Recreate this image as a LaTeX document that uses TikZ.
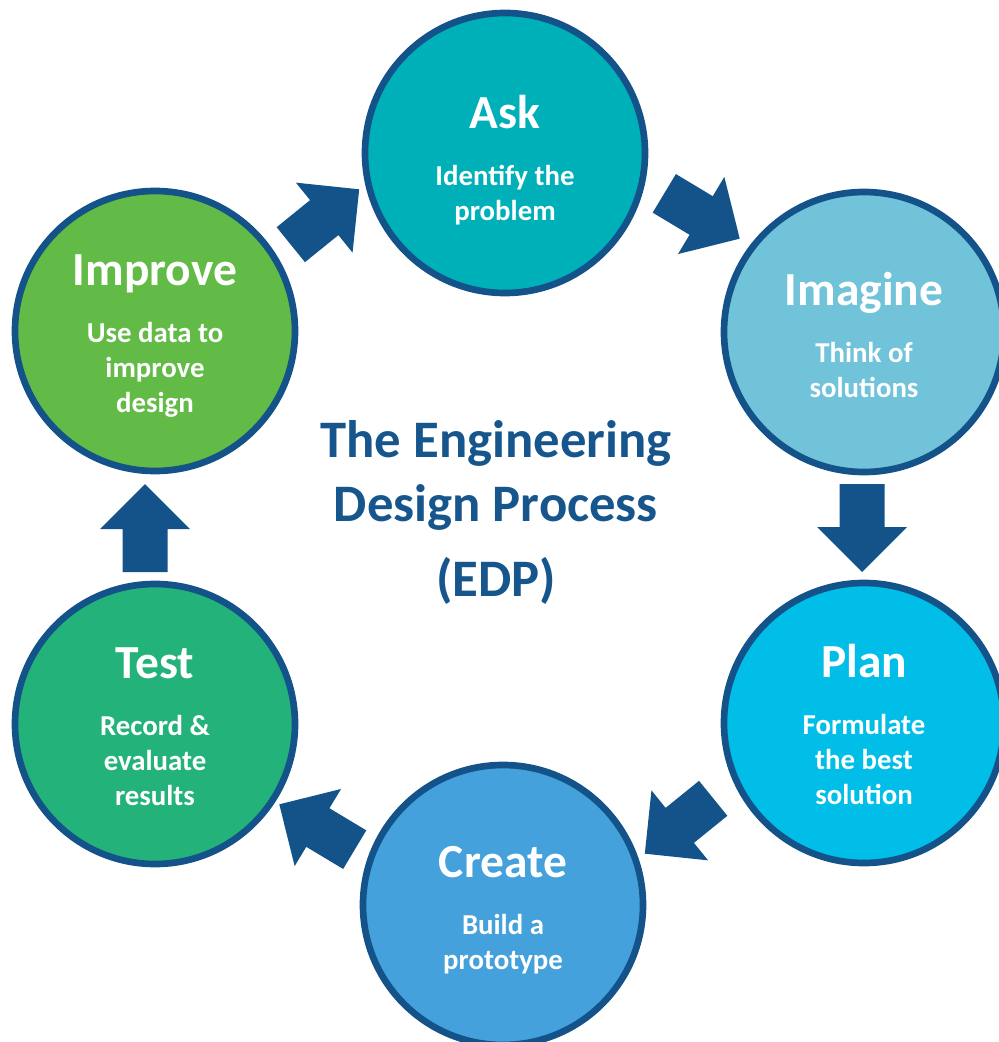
\documentclass[tikz,border=0pt]{standalone}
\usepackage{fontspec}
\setmainfont{Carlito}
\usetikzlibrary{positioning}
\definecolor{edpnavy}{HTML}{14528A}
\definecolor{edptext}{HTML}{17568C}
\definecolor{edpask}{HTML}{00B0B9}
\definecolor{edpimagine}{HTML}{70C3D8}
\definecolor{edpplan}{HTML}{00BEE8}
\definecolor{edpcreate}{HTML}{44A1DB}
\definecolor{edptest}{HTML}{23B37A}
\definecolor{edpimprove}{HTML}{62BB46}
\begin{document}
\begin{tikzpicture}[
  edpcircle/.style = {circle, draw=edpnavy, line width=1.9pt, minimum size=2.8cm, inner sep=0pt},
  edpstep/.style = {font=\bfseries\fontsize{13.5}{16}\selectfont, text=white, inner sep=0pt},
  edpsub/.style = {font=\bfseries\fontsize{8.2}{9.9}\selectfont, text=white, align=center, inner sep=0pt},
  edptitle/.style = {font=\bfseries\fontsize{15}{18.4}\selectfont, text=edptext, align=center, inner sep=0pt},
  edparrow/.pic = {
    \fill[edpnavy] (-0.44,-0.225) -- (-0.01,-0.225) -- (-0.01,-0.45) -- (0.44,0)
      -- (-0.01,0.45) -- (-0.01,0.225) -- (-0.44,0.225) -- cycle;
  }
]
  \useasboundingbox (0,0) rectangle (9.98,-10.42);
  % circles
  \node[edpcircle, fill=edpask] (ask) at (5.05,-1.53) {};
  \node[edpcircle, fill=edpimagine] (imagine) at (8.64,-3.32) {};
  \node[edpcircle, fill=edpplan] (plan) at (8.64,-7.23) {};
  \node[edpcircle, fill=edpcreate] (create) at (5.03,-9.05) {};
  \node[edpcircle, fill=edptest] (test) at (1.55,-7.24) {};
  \node[edpcircle, fill=edpimprove] (improve) at (1.55,-3.31) {};
  % step names
  \node[edpstep, above=0.25cm of ask.center, anchor=base] (asktitle) {Ask};
  \node[edpstep, above=0.27cm of imagine.center, anchor=base] (imaginetitle) {Imagine};
  \node[edpstep, above=0.46cm of plan.center, anchor=base] (plantitle) {Plan};
  \node[edpstep, above=0.28cm of create.center, anchor=base] (createtitle) {Create};
  \node[edpstep, above=0.46cm of test.center, anchor=base] (testtitle) {Test};
  \node[edpstep, above=0.46cm of improve.center, anchor=base] (improvetitle) {Improve};
  % what each step means (base = last line)
  \node[edpsub, below=0.92cm of asktitle.base, anchor=base] (asktext) {Identify the\\problem};
  \node[edpsub, below=0.92cm of imaginetitle.base, anchor=base] (imaginetext) {Think of\\solutions};
  \node[edpsub, below=1.27cm of plantitle.base, anchor=base] (plantext) {Formulate\\the best\\solution};
  \node[edpsub, below=0.92cm of createtitle.base, anchor=base] (createtext) {Build a\\prototype};
  \node[edpsub, below=1.27cm of testtitle.base, anchor=base] (testtext) {Record \&\\evaluate\\results};
  \node[edpsub, below=1.27cm of improvetitle.base, anchor=base] (improvetext) {Use data to\\improve\\design};
  % block arrows
  \pic[rotate=39] at (3.25,-2.17) {edparrow};
  \pic[rotate=-31] at (7.02,-2.16) {edparrow};
  \pic[rotate=-90] at (8.62,-5.28) {edparrow};
  \pic[rotate=219] at (6.79,-8.26) {edparrow};
  \pic[rotate=149] at (3.17,-8.27) {edparrow};
  \pic[rotate=90] at (1.45,-5.28) {edparrow};
  % centre title
  \node[edptitle, anchor=base] (edpname) at (4.96,-5.967)
    {The Engineering\\Design Process\\[2.9pt](EDP)};
\end{tikzpicture}
\end{document}
